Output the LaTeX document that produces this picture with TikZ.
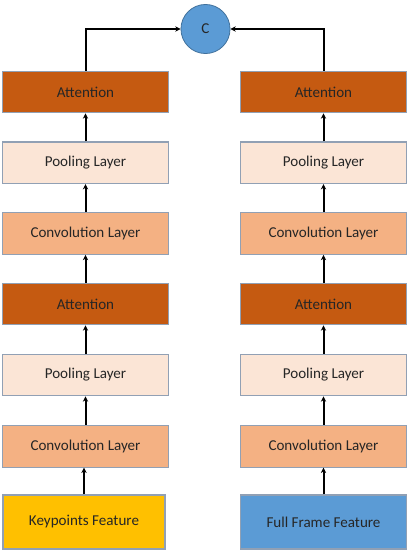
\documentclass[tikz,border=0pt]{standalone}
\usepackage{fontspec}
\setmainfont{Carlito}
\usetikzlibrary{arrows.meta}

\tikzset{every picture/.style={line width=0.75pt}}

\begin{document}
\begin{tikzpicture}[x=0.75pt,y=0.75pt,yscale=-1,xscale=1,
  layer/.style={draw={rgb, 255:red, 145; green, 160; blue, 180 }, line width=0.9pt, minimum width=124.5pt, minimum height=31.2pt, inner sep=0pt, text={rgb, 255:red, 38; green, 38; blue, 38 }, font=\fontsize{11.3}{13}\selectfont},
  attn/.style={layer, fill={rgb, 255:red, 197; green, 90; blue, 17 }},
  pool/.style={layer, fill={rgb, 255:red, 251; green, 229; blue, 214 }},
  conv/.style={layer, fill={rgb, 255:red, 244; green, 177; blue, 131 }},
  feat/.style={layer, minimum height=40.5pt},
  flow/.style={draw=black, line width=1.5pt, -{Stealth[length=4pt,width=4pt]}}]
\useasboundingbox (0,0) rectangle (410,551);

%Shape: Circle [id:concat]
\node [circle, draw={rgb, 255:red, 65; green, 113; blue, 156 }, line width=0.6pt, fill={rgb, 255:red, 91; green, 155; blue, 213 }, minimum size=36.8pt, inner sep=0pt, text={rgb, 255:red, 38; green, 38; blue, 38 }, font=\fontsize{11.3}{13}\selectfont] (C) at (205.5,29) {C};

%Left branch
\node [attn] (lAttnB) at (85.5,92) {Attention};
\node [pool] (lPoolB) at (85.5,162.7) {Pooling Layer};
\node [conv] (lConvB) at (85.5,233.5) {Convolution Layer};
\node [attn] (lAttnA) at (85.5,304) {Attention};
\node [pool] (lPoolA) at (85.5,375) {Pooling Layer};
\node [conv] (lConvA) at (85.5,446.3) {Convolution Layer};
\node [feat, minimum width=121.5pt, fill={rgb, 255:red, 255; green, 192; blue, 0 }] (kpFeat) at (84,522) {Keypoints Feature};

%Right branch
\node [attn] (rAttnB) at (323.5,92) {Attention};
\node [pool] (rPoolB) at (323.5,162.7) {Pooling Layer};
\node [conv] (rConvB) at (323.5,233.5) {Convolution Layer};
\node [attn] (rAttnA) at (323.5,304) {Attention};
\node [pool] (rPoolA) at (323.5,375) {Pooling Layer};
\node [conv] (rConvA) at (323.5,446.3) {Convolution Layer};
\node [feat, fill={rgb, 255:red, 91; green, 155; blue, 213 }] (ffFeat) at (323.5,522) {Full Frame Feature};

%Arrows
\draw [flow] (kpFeat.north) -- (kpFeat.north |- lConvA.south);
\draw [flow] (lConvA) -- (lPoolA);
\draw [flow] (lPoolA) -- (lAttnA);
\draw [flow] (lAttnA) -- (lConvB);
\draw [flow] (lConvB) -- (lPoolB);
\draw [flow] (lPoolB) -- (lAttnB);
\draw [flow] (ffFeat) -- (rConvA);
\draw [flow] (rConvA) -- (rPoolA);
\draw [flow] (rPoolA) -- (rAttnA);
\draw [flow] (rAttnA) -- (rConvB);
\draw [flow] (rConvB) -- (rPoolB);
\draw [flow] (rPoolB) -- (rAttnB);
\draw [flow] (lAttnB.north) |- (C.west);
\draw [flow] (rAttnB.north) |- (C.east);

\end{tikzpicture}
\end{document}
